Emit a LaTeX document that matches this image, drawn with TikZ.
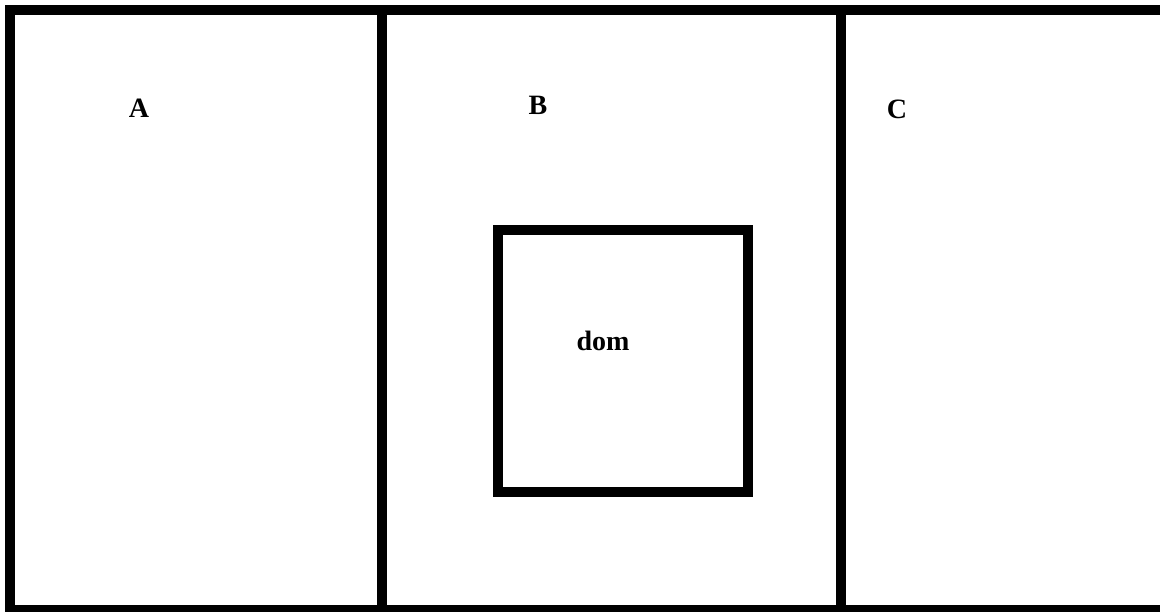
\documentclass[tikz,border=0pt]{standalone}
\usepackage{fontspec}
\setmainfont{Liberation Serif}
\tikzset{
  wall/.style={line width=10pt, line join=miter},
  zonelabel/.style={font=\bfseries\fontsize{28}{32}\selectfont, inner sep=0pt}
}

\begin{document}
\begin{tikzpicture}[x=1pt, y=-1pt]
    \useasboundingbox (0,0) rectangle (1160,611);
    \clip (0,0) rectangle (1160,611);
    % outer frame, open on the right
    \draw[wall] (1180,10) -- (10,10) -- (10,610) -- (1180,610);
    \draw[wall] (382,10) -- (382,610);
    \draw[wall] (841,10) -- (841,610);
    \draw[wall] (498,230) rectangle (748,492);
    \node[zonelabel] (zoneA) at (139,108) {A};
    \node[zonelabel] (zoneB) at (538,105) {B};
    \node[zonelabel] (zoneC) at (897,109) {C};
    \node[zonelabel] (dom) at (603,341) {dom};
  \end{tikzpicture}
\end{document}
